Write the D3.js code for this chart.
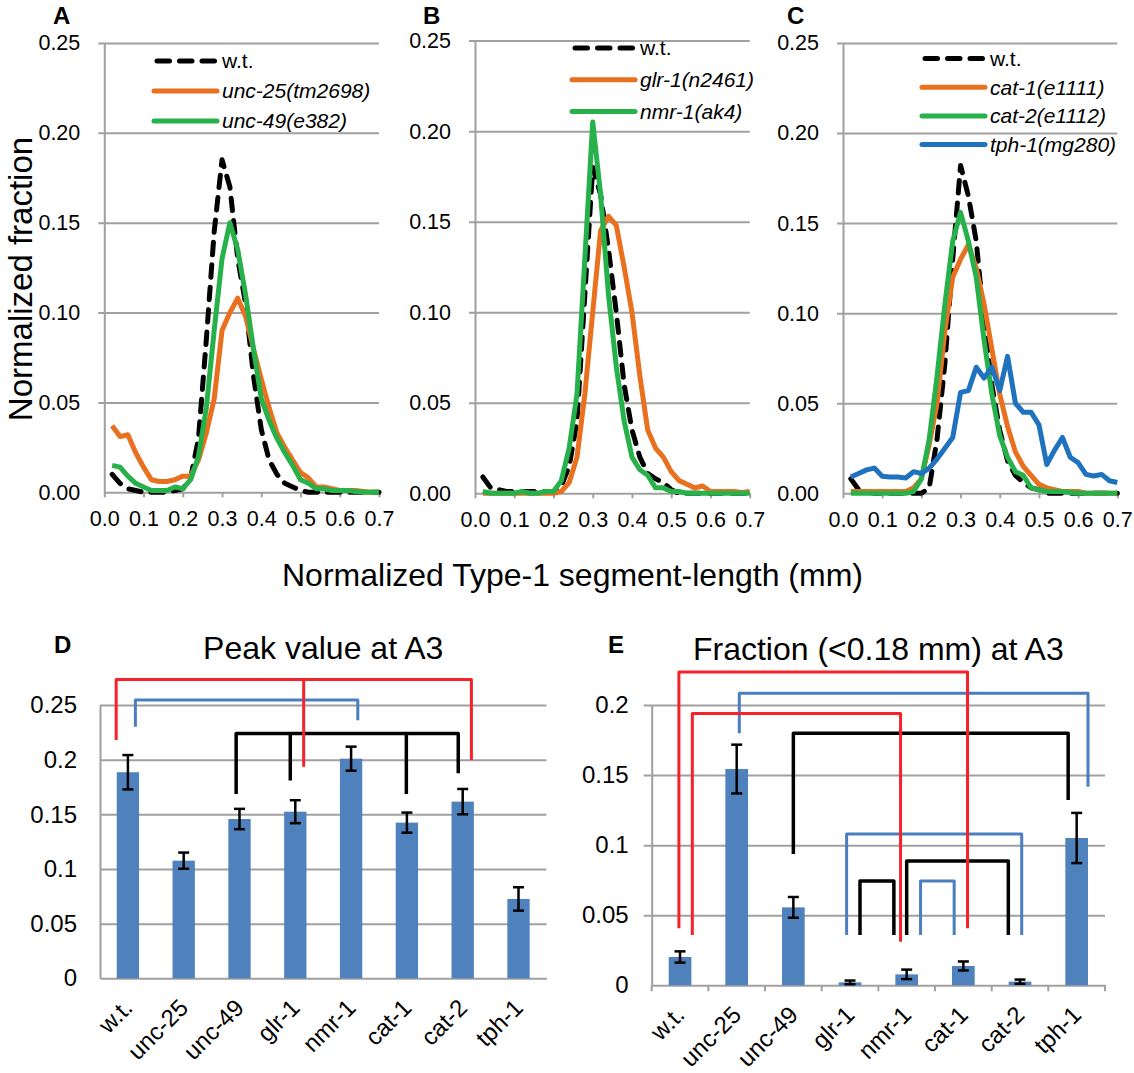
<!DOCTYPE html>
<html>
<head>
<meta charset="utf-8">
<title>Normalized Type-1 segment-length</title>
<script src="https://cdn.jsdelivr.net/npm/d3@7"></script>
<style>
  body { margin: 0; background: #fff; }
  svg { display: block; font-family: "Liberation Sans", Arial, Helvetica, sans-serif; }
</style>
</head>
<body>
<svg id="figure" width="1134" height="1073"></svg>
<script>
// ---- distributions (panels A-C), one value per 0.02 mm bin ----
const segmentLength = [0.02, 0.04, 0.06, 0.08, 0.10, 0.12, 0.14, 0.16, 0.18, 0.20,
  0.22, 0.24, 0.26, 0.28, 0.30, 0.32, 0.34, 0.36, 0.38, 0.40,
  0.42, 0.44, 0.46, 0.48, 0.50, 0.52, 0.54, 0.56, 0.58, 0.60,
  0.62, 0.64, 0.66, 0.68, 0.70];

const wtA = [0.010, 0.005, 0.002, 0.001, 0, 0, 0, 0, 0.001, 0.002,
  0.008, 0.030, 0.085, 0.145, 0.185, 0.170, 0.130, 0.105, 0.065, 0.035,
  0.018, 0.010, 0.005, 0.003, 0.001, 0, 0, 0, 0, 0,
  0, 0, 0, 0, 0];
const unc25 = [0.037, 0.031, 0.032, 0.022, 0.014, 0.007, 0.006, 0.006, 0.007, 0.009,
  0.009, 0.018, 0.033, 0.052, 0.090, 0.100, 0.108, 0.098, 0.080, 0.063,
  0.047, 0.033, 0.025, 0.018, 0.011, 0.008, 0.003, 0.003, 0.002, 0.001,
  0.001, 0.001, 0.0005, 0, 0];
const unc49 = [0.015, 0.014, 0.009, 0.005, 0.003, 0.001, 0.001, 0.001, 0.003, 0.002,
  0.007, 0.020, 0.047, 0.090, 0.130, 0.150, 0.135, 0.110, 0.080, 0.052,
  0.040, 0.030, 0.022, 0.015, 0.007, 0.005, 0.002, 0.002, 0.001, 0.001,
  0.001, 0.0005, 0, 0, 0];

const wtB = [0.009, 0.003, 0.002, 0.001, 0.001, 0.001, 0.001, 0.001, 0.001, 0.001,
  0.004, 0.015, 0.040, 0.110, 0.180, 0.165, 0.135, 0.100, 0.060, 0.035,
  0.020, 0.011, 0.008, 0.006, 0.002, 0, 0, 0, 0, 0,
  0, 0, 0, 0, 0];
const glr1 = [0, 0, 0, 0, 0, 0, 0, 0, 0, 0,
  0.001, 0.006, 0.020, 0.055, 0.100, 0.145, 0.153, 0.148, 0.125, 0.100,
  0.065, 0.035, 0.025, 0.020, 0.012, 0.007, 0.005, 0.003, 0.004, 0.001,
  0.001, 0.001, 0.001, 0.0005, 0.001];
const nmr1 = [0.001, 0, 0, 0, 0, 0.001, 0, 0, 0.001, 0.001,
  0.007, 0.025, 0.055, 0.130, 0.205, 0.165, 0.110, 0.070, 0.040, 0.020,
  0.013, 0.010, 0.003, 0.003, 0.001, 0.001, 0, 0, 0, 0,
  0, 0, 0, 0, 0];

const wtC = [0.008, 0.002, 0.001, 0, 0, 0, 0, 0, 0, 0,
  0.003, 0.030, 0.072, 0.130, 0.182, 0.165, 0.140, 0.095, 0.060, 0.035,
  0.018, 0.010, 0.006, 0.003, 0.002, 0, 0, 0, 0, 0,
  0, 0, 0, 0, 0];
const cat1 = [0.001, 0.001, 0.001, 0.001, 0.001, 0.001, 0.001, 0.001, 0.003, 0.008,
  0.027, 0.050, 0.090, 0.120, 0.130, 0.138, 0.125, 0.105, 0.080, 0.055,
  0.037, 0.023, 0.015, 0.010, 0.005, 0.003, 0.002, 0.001, 0.001, 0.001,
  0, 0, 0, 0, 0];
const cat2 = [0, 0, 0, 0, 0, 0, 0, 0, 0.001, 0.008,
  0.030, 0.065, 0.105, 0.140, 0.156, 0.140, 0.120, 0.085, 0.055, 0.032,
  0.020, 0.012, 0.010, 0.003, 0.002, 0.001, 0.001, 0.001, 0.0005, 0,
  0, 0, 0, 0, 0];
const tph1 = [0.009, 0.011, 0.013, 0.014, 0.0095, 0.009, 0.009, 0.0085, 0.012, 0.011,
  0.014, 0.019, 0.025, 0.031, 0.056, 0.057, 0.070, 0.064, 0.070, 0.057,
  0.076, 0.050, 0.045, 0.045, 0.038, 0.016, 0.024, 0.031, 0.020, 0.017,
  0.0105, 0.0096, 0.0105, 0.007, 0.006];

const distTicksY = [0, 0.05, 0.10, 0.15, 0.20, 0.25];
const distTicksX = [0, 0.1, 0.2, 0.3, 0.4, 0.5, 0.6, 0.7];

// ---- bar charts (panels D, E) ----
const genotypes = ['w.t.', 'unc-25', 'unc-49', 'glr-1', 'nmr-1', 'cat-1', 'cat-2', 'tph-1'];
const peakValue = [0.1885, 0.1076, 0.1457, 0.1524, 0.2009, 0.1424, 0.1616, 0.0726];
const peakError = [0.0157, 0.0074, 0.0093, 0.0105, 0.0110, 0.0092, 0.0116, 0.0107];
const shortValue = [0.0202, 0.1543, 0.0556, 0.0021, 0.0078, 0.0138, 0.0026, 0.1051];
const shortError = [0.0040, 0.0174, 0.0074, 0.0013, 0.0034, 0.0032, 0.0015, 0.0179];
const peakTicks = [0, 0.05, 0.1, 0.15, 0.2, 0.25];
const shortTicks = [0, 0.05, 0.1, 0.15, 0.2];

// significance brackets: top level, and legs [genotype, shift within band, bottom level]
const peakBrackets = [
  { kind: 'black', top: 0.224, legs: [['unc-49', -0.06, 0.1686], ['glr-1', -0.09, 0.181], ['cat-1', -0.01, 0.1686], ['cat-2', -0.08, 0.1875]] },
  { kind: 'blue', top: 0.2546, legs: [['w.t.', 0.134, 0.230], ['nmr-1', 0.12, 0.236]] },
  { kind: 'red', top: 0.2734, legs: [['w.t.', -0.21, 0.218], ['glr-1', 0.15, 0.1936], ['cat-2', 0.156, 0.1997]] }
];
const shortBrackets = [
  { kind: 'black', top: 0.1798, legs: [['unc-49', 0, 0.0937], ['tph-1', -0.15, 0.1322]] },
  { kind: 'black', top: 0.0744, legs: [['glr-1', 0.176, 0.0359], ['nmr-1', -0.226, 0.0359]] },
  { kind: 'black', top: 0.0887, legs: [['nmr-1', 0, 0.0359], ['cat-2', -0.206, 0.0359]] },
  { kind: 'blue', top: 0.2083, legs: [['unc-25', 0.046, 0.1798], ['tph-1', 0.2, 0.1417]] },
  { kind: 'blue', top: 0.108, legs: [['glr-1', -0.06, 0.0359], ['cat-2', 0.03, 0.0359]] },
  { kind: 'blue', top: 0.0744, legs: [['nmr-1', 0.245, 0.0359], ['cat-1', -0.162, 0.0359]] },
  { kind: 'red', top: 0.2236, legs: [['w.t.', -0.02, 0.0407], ['cat-1', 0.074, 0.0407]] },
  { kind: 'red', top: 0.194, legs: [['w.t.', 0.217, 0.0359], ['nmr-1', -0.108, 0.0311]] }
];

const colors = {
  wt: '#000000', orange: '#e8701f', green: '#26b14b', blue: '#1f72bd',
  bar: '#4f81bd', grid: '#a0a0a0',
  black: '#000000', red: '#f5222a', sigBlue: '#4a7ebf'
};

const svg = d3.select('#figure');

function styleAxis(a, size) {
  a.attr('font-size', size).attr('font-family', null);
  a.selectAll('text').attr('fill', '#000');
}

function drawDistribution(p) {
  const x = d3.scaleLinear().domain([0, 0.7]).range([p.left, p.right]);
  const y = d3.scaleLinear().domain([0, 0.25]).range([p.bottom, p.top]);
  const g = svg.append('g');

  g.append('g')
    .attr('transform', `translate(${p.left - 6},0)`)
    .call(d3.axisLeft(y).tickValues(distTicksY.slice(1)).tickSize(-(p.right - p.left + 6)).tickFormat(''))
    .call(a => a.select('.domain').remove())
    .call(a => a.selectAll('line').attr('stroke', colors.grid).attr('stroke-width', 2));

  g.append('g')
    .attr('transform', `translate(${p.left},0)`)
    .call(d3.axisLeft(y).tickValues(distTicksY).tickSize(0).tickSizeOuter(0).tickPadding(24).tickFormat(d3.format('.2f')))
    .call(a => a.select('.domain').attr('stroke', colors.grid).attr('stroke-width', 2))
    .call(a => styleAxis(a, 21.5));

  g.append('g')
    .attr('transform', `translate(0,${p.bottom})`)
    .call(d3.axisBottom(x).tickValues(distTicksX).tickSize(5).tickSizeOuter(0).tickPadding(13).tickFormat(d3.format('.1f')))
    .call(a => a.select('.domain').attr('stroke', colors.grid).attr('stroke-width', 2))
    .call(a => a.selectAll('.tick line').attr('stroke', colors.grid).attr('stroke-width', 2))
    .call(a => styleAxis(a, 21.5));

  const line = d3.line().x((d, i) => x(segmentLength[i])).y(d => y(d));

  p.series.forEach(s => {
    g.append('path')
      .attr('d', line(s.values))
      .attr('fill', 'none')
      .attr('stroke', s.color)
      .attr('stroke-width', 5)
      .attr('stroke-linejoin', 'round')
      .attr('stroke-linecap', s.dashed ? 'round' : 'butt')
      .attr('stroke-dasharray', s.dashed ? '12.5 10' : null);
  });

  p.series.forEach((s, i) => {
    const ly = p.legendY + i * p.legendStep;
    g.append('line')
      .attr('x1', p.legendX + (s.dashed ? 3 : 0))
      .attr('x2', p.legendX + 63)
      .attr('y1', ly).attr('y2', ly)
      .attr('stroke', s.color)
      .attr('stroke-width', 5)
      .attr('stroke-linecap', 'round')
      .attr('stroke-dasharray', s.dashed ? '12.5 10' : null);
    g.append('text')
      .attr('x', p.legendX + 68)
      .attr('y', ly)
      .attr('dy', '0.35em')
      .attr('font-size', 21)
      .attr('font-style', s.dashed ? 'normal' : 'italic')
      .text(s.name);
  });

  g.append('text')
    .attr('x', p.letterX).attr('y', 24)
    .attr('font-size', 24).attr('font-weight', 'bold')
    .text(p.letter);
}

function drawBars(p) {
  const x = d3.scaleBand().domain(genotypes).range([p.left, p.right]).paddingInner(0.6).paddingOuter(0.3);
  const y = d3.scaleLinear().domain([0, p.max]).range([p.bottom, p.top]);
  const g = svg.append('g');

  g.append('g')
    .attr('transform', `translate(${p.left - p.gridLead},0)`)
    .call(d3.axisLeft(y).tickValues(p.ticks.slice(1)).tickSize(-(p.right - p.left + p.gridLead)).tickFormat(''))
    .call(a => a.select('.domain').remove())
    .call(a => a.selectAll('line').attr('stroke', colors.grid).attr('stroke-width', 2));

  g.append('g')
    .attr('transform', `translate(${p.left},0)`)
    .call(d3.axisLeft(y).tickValues(p.ticks).tickSize(0).tickSizeOuter(0).tickPadding(23).tickFormat(d3.format('~g')))
    .call(a => a.select('.domain').attr('stroke', colors.grid).attr('stroke-width', 2))
    .call(a => styleAxis(a, 24));

  const xAxis = g.append('g')
    .attr('transform', `translate(0,${p.bottom})`)
    .call(d3.axisBottom(x).tickSize(0).tickSizeOuter(0))
    .call(a => a.select('.domain').attr('stroke', colors.grid).attr('stroke-width', 2))
    .call(a => styleAxis(a, 24));
  xAxis.selectAll('.tick text')
    .attr('y', 0).attr('dy', 0)
    .attr('text-anchor', 'end')
    .attr('transform', 'translate(6,31) rotate(-45)');

  if (p.boundaryTicks) {
    g.append('g').selectAll('line')
      .data(d3.range(genotypes.length + 1))
      .join('line')
      .attr('x1', i => p.left + i * x.step())
      .attr('x2', i => p.left + i * x.step())
      .attr('y1', p.bottom).attr('y2', p.bottom + 6)
      .attr('stroke', colors.grid).attr('stroke-width', 2);
  }

  g.append('g').selectAll('rect')
    .data(genotypes)
    .join('rect')
    .attr('x', d => x(d))
    .attr('width', x.bandwidth())
    .attr('y', (d, i) => y(p.values[i]))
    .attr('height', (d, i) => y(0) - y(p.values[i]))
    .attr('fill', colors.bar);

  const err = g.append('g').attr('stroke', '#000').attr('stroke-width', 2.5);
  genotypes.forEach((d, i) => {
    const cx = x(d) + x.bandwidth() / 2;
    const lo = y(p.values[i] - p.errors[i]);
    const hi = y(p.values[i] + p.errors[i]);
    err.append('line').attr('x1', cx).attr('x2', cx).attr('y1', lo).attr('y2', hi);
    err.append('line').attr('x1', cx - 5.5).attr('x2', cx + 5.5).attr('y1', lo).attr('y2', lo);
    err.append('line').attr('x1', cx - 5.5).attr('x2', cx + 5.5).attr('y1', hi).attr('y2', hi);
  });

  const legX = ([name, shift]) => x(name) + x.bandwidth() / 2 + shift * x.step();
  ['black', 'blue', 'red'].forEach(kind => {
    p.brackets.filter(b => b.kind === kind).forEach(b => {
      const color = kind === 'black' ? colors.black : kind === 'red' ? colors.red : colors.sigBlue;
      const first = b.legs[0];
      const last = b.legs[b.legs.length - 1];
      const path = d3.path();
      path.moveTo(legX(first), y(first[2]));
      path.lineTo(legX(first), y(b.top));
      path.lineTo(legX(last), y(b.top));
      path.lineTo(legX(last), y(last[2]));
      b.legs.slice(1, -1).forEach(leg => {
        path.moveTo(legX(leg), y(b.top));
        path.lineTo(legX(leg), y(leg[2]));
      });
      g.append('path')
        .attr('d', path.toString())
        .attr('fill', 'none')
        .attr('stroke', color)
        .attr('stroke-width', kind === 'black' ? 3.5 : 3)
        .attr('stroke-linejoin', 'round');
    });
  });

  g.append('text')
    .attr('x', (p.left + p.right) / 2).attr('y', p.titleY)
    .attr('text-anchor', 'middle')
    .attr('font-size', 32)
    .text(p.title);
  g.append('text')
    .attr('x', p.letterX).attr('y', 653)
    .attr('font-size', 24).attr('font-weight', 'bold')
    .text(p.letter);
}

drawDistribution({
  letter: 'A', letterX: 53, left: 104.3, right: 379, top: 43, bottom: 492.3,
  legendX: 154, legendY: 61, legendStep: 30,
  series: [
    { name: 'w.t.', values: wtA, color: colors.wt, dashed: true },
    { name: 'unc-25(tm2698)', values: unc25, color: colors.orange },
    { name: 'unc-49(e382)', values: unc49, color: colors.green }
  ]
});
drawDistribution({
  letter: 'B', letterX: 423, left: 475, right: 749.7, top: 40.6, bottom: 493.3,
  legendX: 572, legendY: 48, legendStep: 31.8,
  series: [
    { name: 'w.t.', values: wtB, color: colors.wt, dashed: true },
    { name: 'glr-1(n2461)', values: glr1, color: colors.orange },
    { name: 'nmr-1(ak4)', values: nmr1, color: colors.green }
  ]
});
drawDistribution({
  letter: 'C', letterX: 787, left: 843, right: 1117.3, top: 43, bottom: 493.3,
  legendX: 922, legendY: 58.5, legendStep: 28.7,
  series: [
    { name: 'w.t.', values: wtC, color: colors.wt, dashed: true },
    { name: 'cat-1(e1111)', values: cat1, color: colors.orange },
    { name: 'cat-2(e1112)', values: cat2, color: colors.green },
    { name: 'tph-1(mg280)', values: tph1, color: colors.blue }
  ]
});

svg.append('text')
  .attr('transform', 'translate(32,279) rotate(-90)')
  .attr('text-anchor', 'middle')
  .attr('font-size', 33)
  .text('Normalized fraction');
svg.append('text')
  .attr('x', 282).attr('y', 586)
  .attr('font-size', 32)
  .text('Normalized Type-1 segment-length (mm)');

drawBars({
  letter: 'D', letterX: 54, title: 'Peak value at A3', titleY: 659,
  left: 100, right: 546.4, top: 705, bottom: 978.3, max: 0.25, gridLead: 0,
  ticks: peakTicks, values: peakValue, errors: peakError, brackets: peakBrackets,
  boundaryTicks: false
});
drawBars({
  letter: 'E', letterX: 608, title: 'Fraction (<0.18 mm) at A3', titleY: 660,
  left: 651.7, right: 1105, top: 705, bottom: 985.3, max: 0.2, gridLead: 8,
  ticks: shortTicks, values: shortValue, errors: shortError, brackets: shortBrackets,
  boundaryTicks: true
});
</script>
</body>
</html>
